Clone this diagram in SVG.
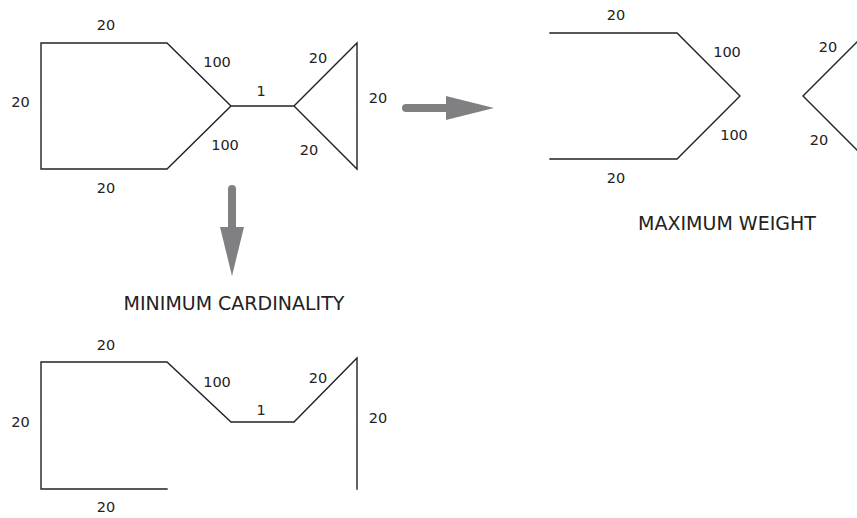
<svg xmlns="http://www.w3.org/2000/svg" width="857" height="518" viewBox="0 0 857 518">
<style>
.e{stroke:#222;stroke-width:1.4;fill:none;stroke-linecap:square}
.l{font-family:"DejaVu Sans",sans-serif;font-size:14.5px;fill:#222;text-anchor:middle}
.t{font-family:"DejaVu Sans",sans-serif;font-size:19px;fill:#222;text-anchor:middle}
.a{fill:#808083}
</style>
<rect width="857" height="518" fill="#fff"/>
<g id="connectors">
<g id="original-edges">
<path class="e" d="M41 43V169M41 43H167L231 106M41 169H167L231 106H294M294 106L357 43V169L294 106"/>
</g>
<g id="max-weight-edges">
<path class="e" d="M550 33H677L740 96L677 159H550M866 33L803 96L866 159"/>
</g>
<g id="min-card-edges">
<path class="e" d="M41 362V489H167M41 362H167L231 422H294L357 358V489"/>
</g>
<g id="arrow-right">
<line x1="406" y1="108" x2="450" y2="108" stroke="#808083" stroke-width="8" stroke-linecap="round"/>
<polygon class="a" points="446,96 494,108 446,120"/>
</g>
<g id="arrow-down">
<line x1="232" y1="189" x2="232" y2="230" stroke="#808083" stroke-width="8" stroke-linecap="round"/>
<polygon class="a" points="220,227 244,227 232,276"/>
</g>
</g>
<g id="original-labels">
<text class="l" x="106" y="30">20</text>
<text class="l" x="20.5" y="107">20</text>
<text class="l" x="217" y="67">100</text>
<text class="l" x="261" y="96">1</text>
<text class="l" x="318" y="63">20</text>
<text class="l" x="378" y="103">20</text>
<text class="l" x="225" y="150">100</text>
<text class="l" x="309" y="155">20</text>
<text class="l" x="106" y="193">20</text>
</g>
<g id="max-weight">
<text class="l" x="616" y="20">20</text>
<text class="l" x="727" y="57">100</text>
<text class="l" x="734" y="140">100</text>
<text class="l" x="616" y="183">20</text>
<text class="l" x="828" y="52">20</text>
<text class="l" x="819" y="145">20</text>
<text class="t" x="727" y="230">MAXIMUM WEIGHT</text>
</g>
<g id="min-cardinality">
<text class="t" x="234" y="310">MINIMUM CARDINALITY</text>
<text class="l" x="106" y="350">20</text>
<text class="l" x="20.5" y="427">20</text>
<text class="l" x="217" y="387">100</text>
<text class="l" x="261" y="415">1</text>
<text class="l" x="318" y="383">20</text>
<text class="l" x="378" y="423">20</text>
<text class="l" x="106" y="512">20</text>
</g>
</svg>
